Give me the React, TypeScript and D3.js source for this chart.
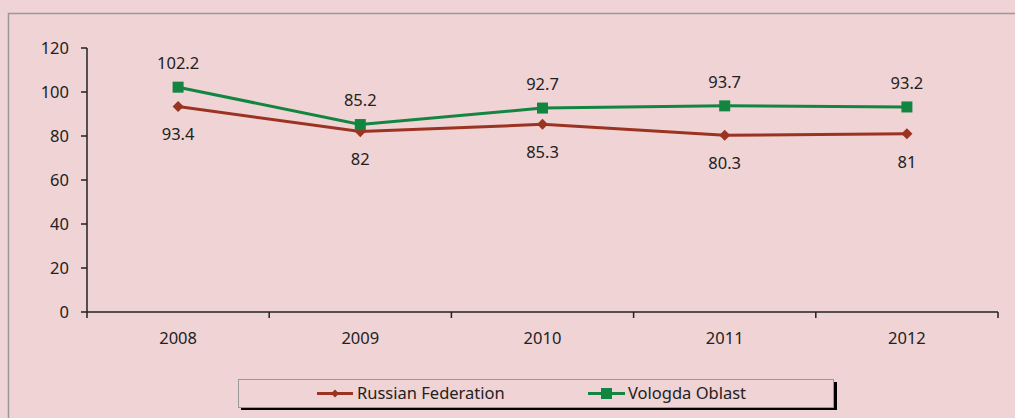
import React from 'react';
import * as d3 from 'd3';

const years = ['2008', '2009', '2010', '2011', '2012'];
const russia = [93.4, 82, 85.3, 80.3, 81];
const vologda = [102.2, 85.2, 92.7, 93.7, 93.2];
const yTicks = [0, 20, 40, 60, 80, 100, 120];

const W = 1015;
const H = 418;
const BG = '#f0d3d4';
const RED = '#9b3322';
const GREEN = '#128541';
const FONT = '"Noto Sans", "Open Sans", sans-serif';
const FS = 16.5;

const App = () => {
  const x = d3.scaleBand().domain(years).range([87, 998]).padding(0);
  const y = d3.scaleLinear().domain([0, 120]).range([312, 48]);
  const cx = (d: string) => (x(d) as number) + x.bandwidth() / 2;

  const line = d3.line<number>()
    .x((_, i) => cx(years[i]))
    .y(d => y(d));

  const diamond = d3.symbol().type(d3.symbolDiamond2).size(78)();

  return (
    <svg width={W} height={H} style={{ position: 'absolute', left: 0, top: 0, fontFamily: FONT }}>
      <rect x={0} y={0} width={W} height={H} fill={BG} />
      {/* outer chart border, right and bottom edges fall outside the picture */}
      <rect x={8.5} y={13.5} width={W + 20} height={H + 20} fill="none" stroke="#999" strokeWidth={1.5} />

      {/* y axis */}
      <line x1={87} x2={87} y1={y(120)} y2={y(0)} stroke="#222" strokeWidth={1.5} />
      {yTicks.map(t => (
        <g key={t}>
          <line x1={81} x2={87} y1={y(t)} y2={y(t)} stroke="#222" strokeWidth={1.5} />
          <text x={69} y={y(t)} dy="0.35em" textAnchor="end" fontSize={FS} fill="#222">{t}</text>
        </g>
      ))}

      {/* x axis */}
      <line x1={87} x2={998} y1={y(0)} y2={y(0)} stroke="#222" strokeWidth={1.5} />
      {years.map(yr => (
        <line key={'t' + yr} x1={x(yr)} x2={x(yr)} y1={y(0)} y2={y(0) + 6} stroke="#222" strokeWidth={1.5} />
      ))}
      <line x1={998} x2={998} y1={y(0)} y2={y(0) + 6} stroke="#222" strokeWidth={1.5} />
      {years.map(yr => (
        <text key={'l' + yr} x={cx(yr)} y={338} dy="0.35em" textAnchor="middle" fontSize={FS} fill="#222">{yr}</text>
      ))}

      {/* series */}
      <path d={line(russia) || ''} fill="none" stroke={RED} strokeWidth={3} />
      <path d={line(vologda) || ''} fill="none" stroke={GREEN} strokeWidth={3} />
      {russia.map((v, i) => (
        <g key={'r' + i}>
          <path d={diamond || ''} transform={`translate(${cx(years[i])},${y(v)})`} fill={RED} />
          <text x={cx(years[i])} y={y(v) + 28} dy="0.35em" textAnchor="middle" fontSize={FS} fill="#222">{v}</text>
        </g>
      ))}
      {vologda.map((v, i) => (
        <g key={'v' + i}>
          <rect x={cx(years[i]) - 5.5} y={y(v) - 5.5} width={11} height={11} fill={GREEN} />
          <text x={cx(years[i])} y={y(v) - 24} dy="0.35em" textAnchor="middle" fontSize={FS} fill="#222">{v}</text>
        </g>
      ))}

      {/* legend */}
      <rect x={241} y={382} width={596} height={28} fill="#000" />
      <rect x={238.5} y={379.5} width={595} height={28} fill={BG} stroke="#999" strokeWidth={1} />
      <line x1={317} x2={353} y1={393.5} y2={393.5} stroke={RED} strokeWidth={3} />
      <path d={d3.symbol().type(d3.symbolDiamond2).size(40)() || ''} transform="translate(335,393.5)" fill={RED} />
      <text x={357} y={393.5} dy="0.35em" fontSize={FS} fill="#222">Russian Federation</text>
      <line x1={588} x2={625} y1={393.5} y2={393.5} stroke={GREEN} strokeWidth={3} />
      <rect x={601} y={388} width={11} height={11} fill={GREEN} />
      <text x={628} y={393.5} dy="0.35em" fontSize={FS} fill="#222">Vologda Oblast</text>
    </svg>
  );
};

export default App;
